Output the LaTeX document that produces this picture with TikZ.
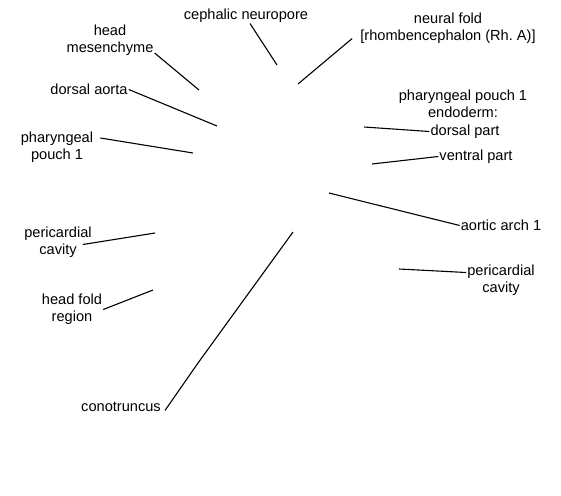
\documentclass[tikz,border=0pt]{standalone}
\usepackage{fontspec}
\setmainfont{Liberation Sans}

\begin{document}
\frenchspacing
\begin{tikzpicture}[
    x=1pt, y=-1pt,
    lbl/.style={font=\fontsize{14.6}{17}\selectfont, align=center, inner sep=1pt, yshift=-1.5pt},
    lead/.style={line width=1.1pt}
]

\useasboundingbox (0,0) rectangle (561,495);

\node[lbl] (Neuropore) at (246,14) {cephalic neuropore};
\node[lbl] (Mesenchyme) at (110,39) {head\\mesenchyme};
\node[lbl] (DorsalAorta) at (89,88) {dorsal aorta};
\node[lbl] (PouchL) at (57,146) {pharyngeal\\pouch 1};
\node[lbl] (NeuralFold) at (448,27) {neural fold\\{[rhombencephalon (Rh. A)]}};
\node[lbl] (Endoderm) at (463,102) {pharyngeal pouch 1\\endoderm:};
\node[lbl] (DorsalPart) at (465,130) {dorsal part};
\node[lbl] (VentralPart) at (476,155) {ventral part};
\node[lbl] (Arch) at (501,224) {aortic arch 1};
\node[lbl] (CavityR) at (501,279) {pericardial\\cavity};
\node[lbl] (CavityL) at (58,241) {pericardial\\cavity};
\node[lbl] (HeadFold) at (72,308) {head fold\\region};
\node[lbl] (Conotruncus) at (121,405) {conotruncus};

\coordinate (NeuroporeTip) at (277,65);
\coordinate (MesenchymeTip) at (199,90);
\coordinate (DorsalAortaTip) at (217,126);
\coordinate (PouchLTip) at (193,153);
\coordinate (NeuralFoldTip) at (298,84);
\coordinate (DorsalPartTip) at (364,127);
\coordinate (VentralPartTip) at (372,164);
\coordinate (ArchTip) at (329,193);
\coordinate (CavityRTip) at (399,269);
\coordinate (CavityLTip) at (155,233);
\coordinate (HeadFoldTip) at (153,290);
\coordinate (ConoBend) at (198,363);
\coordinate (ConoTip) at (293,232);

\draw[lead] ([xshift=4pt]Neuropore.south) -- (NeuroporeTip);
\draw[lead] ([yshift=4pt]Mesenchyme.south east) -- (MesenchymeTip);
\draw[lead] (DorsalAorta.east) -- (DorsalAortaTip);
\draw[lead] ([xshift=6pt,yshift=-7pt]PouchL.north east) -- (PouchLTip);
\draw[lead] ([xshift=-7pt,yshift=-10pt]NeuralFold.west) -- (NeuralFoldTip);
\draw[lead] (DorsalPart.west) -- (DorsalPartTip);
\draw[lead] (VentralPart.west) -- (VentralPartTip);
\draw[lead] (Arch.west) -- (ArchTip);
\draw[lead] ([yshift=8pt]CavityR.west) -- (CavityRTip);
\draw[lead] ([xshift=-10pt,yshift=-2pt]CavityL.east) -- (CavityLTip);
\draw[lead] (HeadFold.east) -- (HeadFoldTip);
\draw[lead] ([xshift=3pt,yshift=-4pt]Conotruncus.east) -- (ConoBend) -- (ConoTip);

\end{tikzpicture}
\end{document}
